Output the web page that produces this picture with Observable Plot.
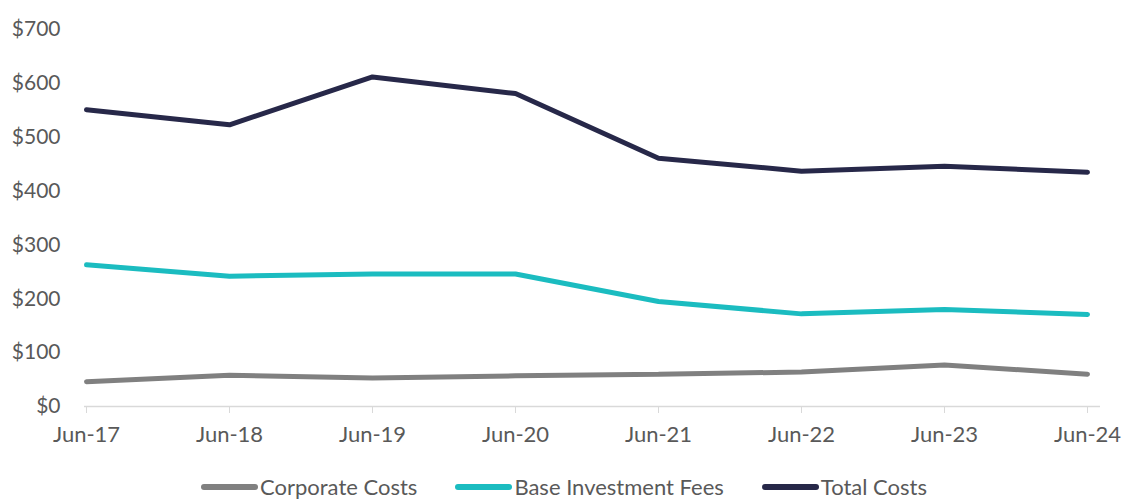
<!DOCTYPE html>
<html>
<head>
<meta charset="utf-8">
<script src="https://cdn.jsdelivr.net/npm/d3@7"></script>
<script src="https://cdn.jsdelivr.net/npm/@observablehq/plot@0.6"></script>
<style>
  html, body { margin: 0; padding: 0; background: #fff; }
  body { width: 1128px; height: 500px; overflow: hidden; font-family: Lato, "Open Sans", sans-serif; }
  #legend { display: flex; justify-content: center; align-items: center; height: 24px; padding-top: 10px; font-size: 22px; line-height: 24px; color: #595959; }
  .item { display: flex; align-items: center; margin: 0 19px; }
  .sw { display: inline-block; width: 57px; height: 6px; border-radius: 3px; margin-right: 2px; }
</style>
</head>
<body>
<div id="chart"></div>
<div id="legend"></div>
<script>
const periods = ["Jun-17", "Jun-18", "Jun-19", "Jun-20", "Jun-21", "Jun-22", "Jun-23", "Jun-24"];
const corporateCosts = [46, 58, 53, 57, 60, 64, 77, 60];
const baseInvestmentFees = [263, 242, 246, 246, 195, 172, 180, 171];
const totalCosts = [551, 523, 612, 581, 461, 437, 446, 435];
const seriesNames = ["Corporate Costs", "Base Investment Fees", "Total Costs"];
const seriesColors = ["#808080", "#1bbcc0", "#272849"];
const yTicks = [0, 100, 200, 300, 400, 500, 600, 700];

const seriesValues = [corporateCosts, baseInvestmentFees, totalCosts];
const data = seriesNames.flatMap((name, s) =>
  periods.map((p, i) => ({ period: p, value: seriesValues[s][i], series: name })));

const chart = Plot.plot({
  width: 1128,
  height: 465,
  marginLeft: 85,
  marginRight: 41,
  marginTop: 29,
  marginBottom: 59,
  style: { fontFamily: "Lato, 'Open Sans', sans-serif", fontSize: "21px", color: "#595959", background: "#fff" },
  x: { type: "point", domain: periods, padding: 0, label: null },
  y: { domain: [0, 700], label: null },
  color: { domain: seriesNames, range: seriesColors },
  marks: [
    Plot.ruleY([0], { stroke: "#d9d9d9", strokeWidth: 1.5, insetLeft: -1, insetRight: -13 }),
    Plot.axisX({ tickSize: 7, tickPadding: 13, stroke: "#d9d9d9", strokeOpacity: 1, fill: "#595959", fontSize: 22 }),
    Plot.axisY({ ticks: yTicks, tickSize: 0, tickPadding: 25, tickFormat: d => "$" + d, fill: "#595959", fontSize: 21 }),
    Plot.line(data, { x: "period", y: "value", z: "series", stroke: "series", strokeWidth: 5, strokeLinecap: "round", strokeLinejoin: "miter" })
  ]
});
document.getElementById("chart").appendChild(chart);

const legend = document.getElementById("legend");
seriesNames.forEach((name, i) => {
  const item = document.createElement("div");
  item.className = "item";
  const sw = document.createElement("span");
  sw.className = "sw";
  sw.style.background = seriesColors[i];
  const label = document.createElement("span");
  label.textContent = name;
  item.appendChild(sw);
  item.appendChild(label);
  legend.appendChild(item);
});
</script>
</body>
</html>
